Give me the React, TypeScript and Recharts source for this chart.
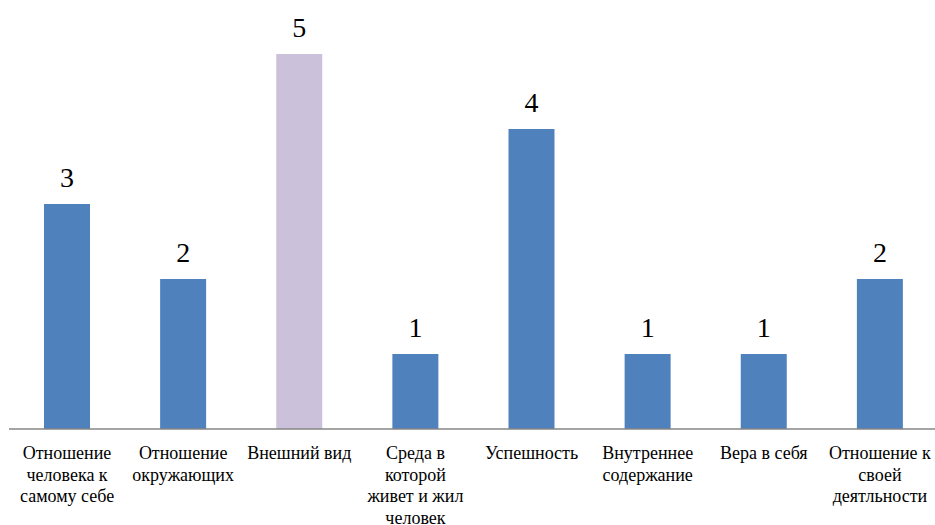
import React, { useLayoutEffect } from "react";
import { BarChart, Bar, XAxis, YAxis, Cell, LabelList } from "recharts";

const categories: string[] = [
  "Отношение человека к самому себе",
  "Отношение окружающих",
  "Внешний вид",
  "Среда в которой живет и жил человек",
  "Успешность",
  "Внутреннее содержание",
  "Вера в себя",
  "Отношение к своей деятльности",
];

const tickLines: string[][] = [
  ["Отношение", "человека к", "самому себе"],
  ["Отношение", "окружающих"],
  ["Внешний вид"],
  ["Среда в", "которой", "живет и жил", "человек"],
  ["Успешность"],
  ["Внутреннее", "содержание"],
  ["Вера в себя"],
  ["Отношение к", "своей", "деятльности"],
];

const values: number[] = [3, 2, 5, 1, 4, 1, 1, 2];

const barColors: string[] = [
  "#4F81BD",
  "#4F81BD",
  "#CCC1DA",
  "#4F81BD",
  "#4F81BD",
  "#4F81BD",
  "#4F81BD",
  "#4F81BD",
];

const data = categories.map((c, i) => ({ name: c, value: values[i], idx: i }));

const FONT = "Liberation Serif";

if (typeof document !== "undefined") {
  document.body.style.margin = "0";
}

const Tick = (props: any) => {
  const { x, y, index } = props;
  const lines = tickLines[index] || [];
  return (
    <g>
      {lines.map((l, i) => (
        <text
          key={i}
          x={x}
          y={y + 22 + i * 21.6}
          textAnchor="middle"
          fontFamily={FONT}
          fontSize={18}
          fill="#000"
        >
          {l}
        </text>
      ))}
    </g>
  );
};

const ValueLabel = (props: any) => {
  const { x, y, width, value } = props;
  return (
    <text
      x={x + width / 2}
      y={y - 17}
      textAnchor="middle"
      fontFamily={FONT}
      fontSize={28}
      fill="#000"
    >
      {value}
    </text>
  );
};

export default function App() {
  useLayoutEffect(() => {
    document.body.style.margin = "0";
  }, []);
  return (
    <div
      style={{
        width: 935,
        height: 525,
        overflow: "hidden",
        background: "#fff",
      }}
    >
      <BarChart
        width={940}
        height={525}
        data={data}
        margin={{ top: 54, right: 2, bottom: 6, left: 9 }}
        barCategoryGap={0}
      >
        <YAxis hide domain={[0, 5]} />
        <XAxis
          dataKey="name"
          height={90}
          tickLine={false}
          axisLine={{ stroke: "#868686", strokeWidth: 1.5 }}
          tick={<Tick />}
          interval={0}
        />
        <Bar dataKey="value" barSize={46} isAnimationActive={false}>
          {data.map((d, i) => (
            <Cell key={i} fill={barColors[i]} />
          ))}
          <LabelList dataKey="value" content={<ValueLabel />} />
        </Bar>
      </BarChart>
    </div>
  );
}
